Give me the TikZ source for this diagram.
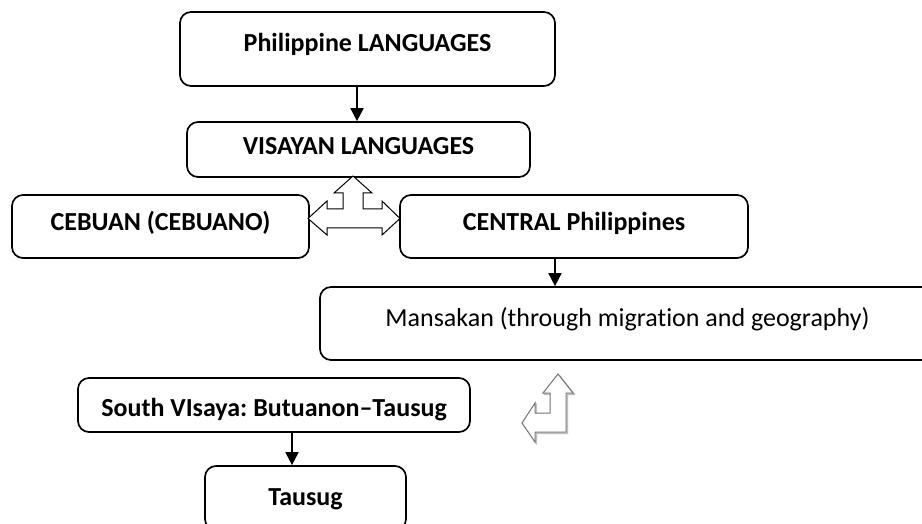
\documentclass[tikz,border=0pt]{standalone}
\usepackage{fontspec}
\setmainfont{Carlito}[Ligatures=NoCommon]
\frenchspacing
\usetikzlibrary{arrows.meta}
\tikzset{
  box/.style={draw=black, line width=1.7pt, rounded corners=11pt, fill=white,
    inner sep=0pt, font=\fontsize{26}{30}\selectfont\bfseries},
  plainbox/.style={box, font=\fontsize{26}{30}\selectfont},
  vs/.code={\pgfmathsetlengthmacro\vsTH{16.4pt-(#1)+10pt}%
            \pgfmathsetlengthmacro\vsTD{(#1)+10pt}%
            \edef\vsTMP{\noexpand\tikzset{text height=\vsTH,text depth=\vsTD}}\vsTMP},
  arr/.style={line width=1.7pt, -{Triangle[length=13pt,width=13pt]}},
  blockarrow/.style={draw=black, line width=1pt, fill=white, line join=miter},
  grayarrow/.style={draw=black!55, line width=1pt, fill=white, line join=miter},
  grayshadow/.style={draw=black!25, line width=1.2pt, line join=miter}
}
\begin{document}
\begin{tikzpicture}[x=1pt, y=-1pt]
\clip (0,0) rectangle (922,524);
\fill[white] (0,0) rectangle (922,524);

\node[box, minimum width=375pt, minimum height=74pt, vs=5.5pt] (n1) at (367.5,49) {Philippine LANGUAGES};
\node[box, minimum width=343pt, minimum height=55pt, vs=3pt] (n2) at (358.5,149.5) {VISAYAN LANGUAGES};
\node[box, minimum width=297pt, minimum height=63pt, vs=4pt] (ceb) at (160.5,226.5) {CEBUAN (CEBUANO)};
\node[box, minimum width=348pt, minimum height=63pt, vs=4pt] (cen) at (574,226.5) {CENTRAL Philippines};
\node[plainbox, minimum width=620pt, minimum height=73pt, vs=5.5pt] (man) at (630,323.5) {\hspace*{-5pt}Mansakan (through migration and geography)};
\node[box, minimum width=392pt, minimum height=54pt, vs=-3pt] (sv) at (274,405) {South VIsaya: Butuanon–Tausug};
\node[box, minimum width=201pt, minimum height=64pt, vs=1pt] (tau) at (305.5,498) {Tausug};

\draw[arr] ([xshift=-10.5pt]n1.south) -- ([xshift=-10.5pt]n1.south |- n2.north);
\draw[arr] ([xshift=-19pt]cen.south) -- ([xshift=-19pt]cen.south |- man.north);
\draw[arr] ([xshift=18pt]sv.south) -- ([xshift=18pt]sv.south |- tau.north);

% left-right-up block arrow
\draw[blockarrow] (353,176) -- (372,193) -- (363,193) -- (363,209) -- (382,209) -- (382,201)
  -- (400,218.5) -- (382,235) -- (382,228) -- (327,228) -- (327,235) -- (308,218.5)
  -- (327,201) -- (327,209) -- (343,209) -- (343,193) -- (334,193) -- cycle;

% bent (left-up) block arrow with shadow
\draw[grayshadow, shift={(1.5,1.5)}] (558,374) -- (573,393) -- (566,393) -- (566,432) -- (535,432)
  -- (535,442) -- (522,423) -- (535,403) -- (535,413) -- (550,413) -- (550,393) -- (543,393) -- cycle;
\draw[grayarrow] (558,374) -- (573,393) -- (566,393) -- (566,432) -- (535,432)
  -- (535,442) -- (522,423) -- (535,403) -- (535,413) -- (550,413) -- (550,393) -- (543,393) -- cycle;
\end{tikzpicture}
\end{document}
